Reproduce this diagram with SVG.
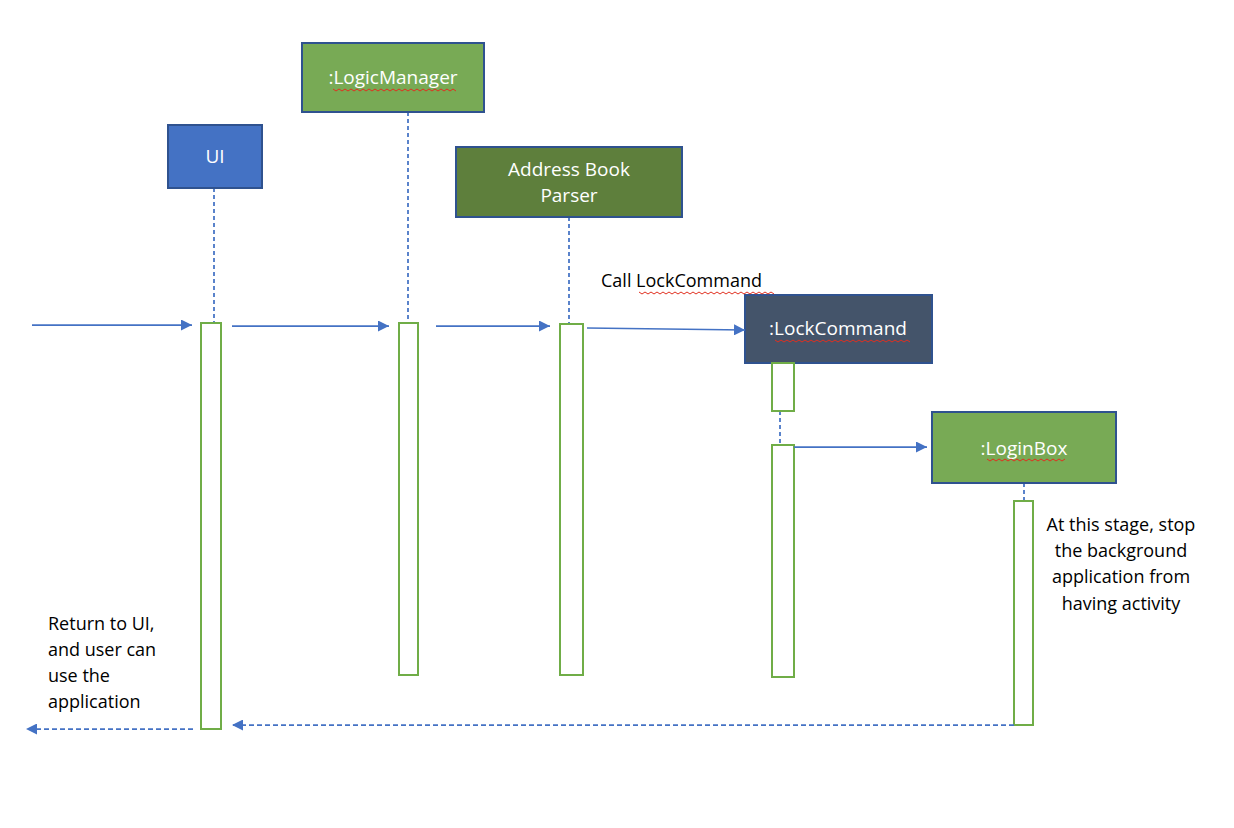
<svg xmlns="http://www.w3.org/2000/svg" width="1234" height="828" viewBox="0 0 1234 828">
<defs>
<marker id="ah" viewBox="0 0 10 10" refX="10" refY="5" markerWidth="11" markerHeight="11" markerUnits="userSpaceOnUse" orient="auto">
<path d="M0,0 L10,5 L0,10 z" fill="#4472C4"/>
</marker>
<style>
.box{stroke:#2F528F;stroke-width:2}
.lbl{font-family:"Open Sans","Liberation Sans",sans-serif;font-size:19px;fill:#fff;text-anchor:middle}
.txt{font-family:"Open Sans","Liberation Sans",sans-serif;font-size:18px;fill:#000}
.life{stroke:#4472C4;stroke-width:1.75;stroke-dasharray:4 3;fill:none}
.act{fill:#fff;stroke:#70AD47;stroke-width:2}
.msg{stroke:#4472C4;stroke-width:1.75;fill:none;marker-end:url(#ah)}
.ret{stroke:#4472C4;stroke-width:1.75;stroke-dasharray:5 3;fill:none;marker-end:url(#ah)}
.sq{stroke:#E03020;stroke-width:1;fill:none}
</style>
</defs>
<rect width="1234" height="828" fill="#fff"/>
<g id="lifelines">
<line class="life" x1="214" y1="188" x2="214" y2="323"/>
<line class="life" x1="408" y1="112" x2="408" y2="323"/>
<line class="life" x1="569" y1="217" x2="569" y2="324"/>
<line class="life" x1="780" y1="411" x2="780" y2="445"/>
<line class="life" x1="1024" y1="483" x2="1024" y2="501"/>
</g>
<g id="ui">
<rect class="box" x="168" y="125" width="94" height="63" fill="#4472C4"/>
<text class="lbl" x="215" y="163">UI</text>
</g>
<g id="logicmanager">
<rect class="box" x="302" y="43" width="182" height="69" fill="#78AA55"/>
<text class="lbl" x="393" y="84">:LogicManager</text>
<path class="sq" d="M333,89 l3,2 l3,-2 l3,2 l3,-2 l3,2 l3,-2 l3,2 l3,-2 l3,2 l3,-2 l3,2 l3,-2 l3,2 l3,-2 l3,2 l3,-2 l3,2 l3,-2 l3,2 l3,-2 l3,2 l3,-2 l3,2 l3,-2 l3,2 l3,-2 l3,2 l3,-2 l3,2 l3,-2 l3,2 l3,-2 l3,2 l3,-2 l3,2 l3,-2 l3,2 l3,-2 l3,2 l3,-2 l3,2"/>
</g>
<g id="parser">
<rect class="box" x="456" y="147" width="226" height="70" fill="#5E7F3C"/>
<text class="lbl" x="569" y="176">Address Book</text>
<text class="lbl" x="569" y="202">Parser</text>
</g>
<g id="lockcommand">
<rect class="box" x="745" y="295" width="187" height="68" fill="#44546A"/>
<text class="lbl" x="838" y="335">:LockCommand</text>
<path class="sq" d="M775,340 l3,2 l3,-2 l3,2 l3,-2 l3,2 l3,-2 l3,2 l3,-2 l3,2 l3,-2 l3,2 l3,-2 l3,2 l3,-2 l3,2 l3,-2 l3,2 l3,-2 l3,2 l3,-2 l3,2 l3,-2 l3,2 l3,-2 l3,2 l3,-2 l3,2 l3,-2 l3,2 l3,-2 l3,2 l3,-2 l3,2 l3,-2 l3,2 l3,-2 l3,2 l3,-2 l3,2 l3,-2 l3,2 l3,-2 l3,2 l3,-2 l3,2"/>
</g>
<g id="loginbox">
<rect class="box" x="932" y="412" width="184" height="71" fill="#78AA55"/>
<text class="lbl" x="1024" y="455">:LoginBox</text>
<path class="sq" d="M987,459 l3,2 l3,-2 l3,2 l3,-2 l3,2 l3,-2 l3,2 l3,-2 l3,2 l3,-2 l3,2 l3,-2 l3,2 l3,-2 l3,2 l3,-2 l3,2 l3,-2 l3,2 l3,-2 l3,2 l3,-2 l3,2 l3,-2 l3,2 l3,-2"/>
</g>
<g id="activations">
<rect class="act" x="201" y="323" width="20" height="406"/>
<rect class="act" x="399" y="323" width="19" height="352"/>
<rect class="act" x="560" y="324" width="23" height="351"/>
<rect class="act" x="772" y="363" width="22" height="48"/>
<rect class="act" x="772" y="445" width="22" height="232"/>
<rect class="act" x="1014" y="501" width="19" height="224"/>
</g>
<g id="connectors">
<line class="msg" x1="32" y1="325" x2="192" y2="325"/>
<line class="msg" x1="232" y1="326" x2="389" y2="326"/>
<line class="msg" x1="436" y1="326" x2="550" y2="326"/>
<line class="msg" x1="587" y1="328" x2="745" y2="330"/>
<line class="msg" x1="794" y1="447" x2="927" y2="447"/>
<line class="ret" x1="1014" y1="725" x2="232" y2="725"/>
<line class="ret" x1="193" y1="729" x2="26" y2="729"/>
</g>
<g id="labels">
<text class="txt" x="601" y="287">Call LockCommand</text>
<path class="sq" d="M639,292 l3,2 l3,-2 l3,2 l3,-2 l3,2 l3,-2 l3,2 l3,-2 l3,2 l3,-2 l3,2 l3,-2 l3,2 l3,-2 l3,2 l3,-2 l3,2 l3,-2 l3,2 l3,-2 l3,2 l3,-2 l3,2 l3,-2 l3,2 l3,-2 l3,2 l3,-2 l3,2 l3,-2 l3,2 l3,-2 l3,2 l3,-2 l3,2 l3,-2 l3,2 l3,-2 l3,2 l3,-2 l3,2 l3,-2 l3,2 l3,-2 l3,2"/>
<text class="txt" x="48" y="630">Return to UI,</text>
<text class="txt" x="48" y="656">and user can</text>
<text class="txt" x="48" y="682">use the</text>
<text class="txt" x="48" y="708">application</text>
<text class="txt" x="1121" y="531" text-anchor="middle">At this stage, stop</text>
<text class="txt" x="1121" y="557" text-anchor="middle">the background</text>
<text class="txt" x="1121" y="583" text-anchor="middle">application from</text>
<text class="txt" x="1121" y="610" text-anchor="middle">having activity</text>
</g>
</svg>
